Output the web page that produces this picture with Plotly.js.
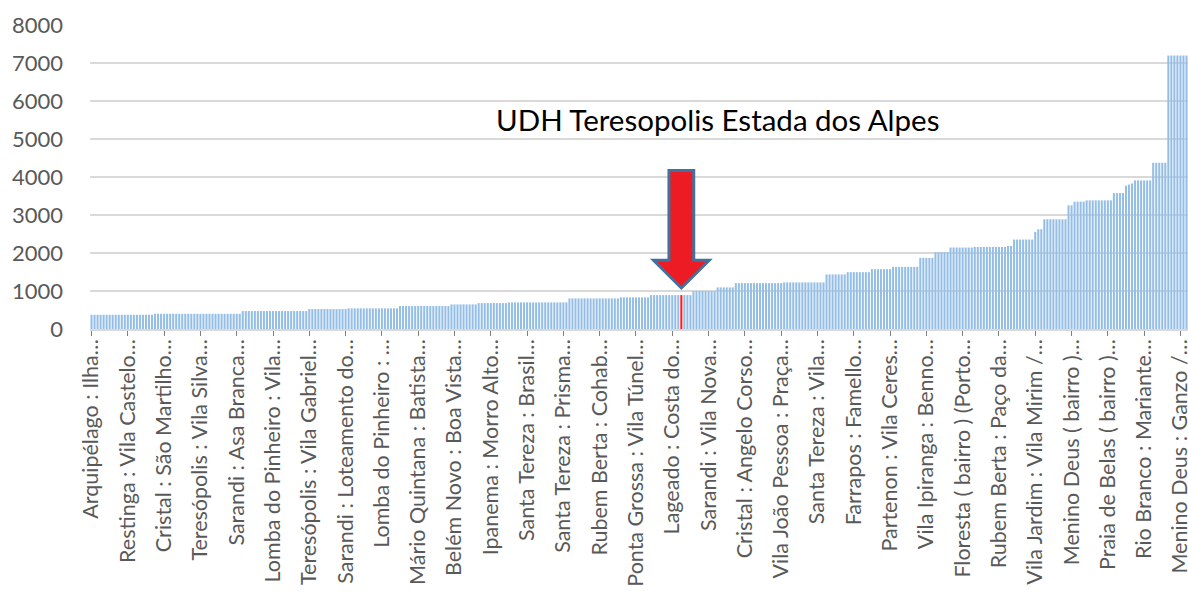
<!DOCTYPE html>
<html>
<head>
<meta charset="utf-8">
<script src="https://cdn.plot.ly/plotly-3.0.1.min.js"></script>
<style>html,body{margin:0;padding:0;background:#fff;}#chart{width:1188px;height:613px;}</style>
</head>
<body>
<div id="chart"></div>
<script>
// Values of the sorted UDHs
const values = [
  375,375,375,375,375,375,375,375,375,375, 375,375,375,375,375,375,375,375,375,375, 375,
  400,400,400,400,400,400,400,400,400,400, 400,400,400,400,400,400,400,400,400,400, 400,400,400,400,400,400,400,400,400,
  472,472,472,472,472,472,472,472,472,472, 472,472,472,472,472,472,472,472,472,472, 472,472,
  525,525,525,525,525,525,525,525,525,525, 525,525,525,
  543,543,543,543,543,543,543,543,543,543, 543,543,543,543,543,543,543,
  604,604,604,604,604,604,604,604,604,604, 604,604,604,604,604,604,604,
  648,648,648,648,648,648,648,648,648,
  682,682,682,682,682,682,682,682,682,682,
  700,700,700,700,700,700,700,700,700,700, 700,700,700,700,700,700,700,700,700,700,
  805,805,805,805,805,805,805,805,805,805, 805,805,805,805,805,805,805,
  832,832,832,832,832,832,832,832,832,832,
  892,892,892,892,892,892,892,892,892,892, 892,892,892,892,
  997,997,997,997,997,997,997,997,
  1094,1094,1094,1094,1094,1094,
  1207,1207,1207,1207,1207,1207,1207,1207,1207,1207, 1207,1207,1207,1207,1207,1207,
  1226,1226,1226,1226,1226,1226,1226,1226,1226,1226, 1226,1226,1226,1226,
  1436,1436,1436,1436,1436,1436,1436,
  1496,1496,1496,1496,1496,1496,1496,1496,
  1575,1575,1575,1575,1575,1575,1575,
  1635,1635,1635,1635,1635,1635,1635,1635,1635,
  1871,1871,1871,1871,1871,
  2021,2021,2021,2021,2021,
  2144,2144,2144,2144,2144,2144,2144,2144,
  2160,2160,2160,2160,2160,2160,2160,2160,2160,2160, 2160,
  2186,2186,
  2354,2354,2354,2354,2354,2354,2354,
  2554,
  2625,2625,
  2887,2887,2887,2887,2887,2887,2887,2887,
  3255,3255,
  3352,3352,3352,3352,
  3386,3386,3386,3386,3386,3386,3386,3386,3386,
  3577,3577,3577,3577,
  3772,3800,3830,
  3911,3911,3911,3911,3911,3911,
  4375,4375,4375,4375,4375,
  7200,7200,7200,7200,7200,7200,7200
];

// Category labels shown on the axis (every 12th UDH)
const tickLabels = [
  "Arquipélago : Ilha…",
  "Restinga : Vila Castelo…",
  "Cristal : São Martilho…",
  "Teresópolis : Vila Silva…",
  "Sarandi : Asa Branca…",
  "Lomba do Pinheiro : Vila…",
  "Teresópolis : Vila Gabriel…",
  "Sarandi : Loteamento do…",
  "Lomba do Pinheiro : …",
  "Mário Quintana : Batista…",
  "Belém Novo : Boa Vista…",
  "Ipanema : Morro Alto…",
  "Santa Tereza : Brasil…",
  "Santa Tereza : Prisma…",
  "Rubem Berta : Cohab…",
  "Ponta Grossa : Vila Túnel…",
  "Lageado : Costa do…",
  "Sarandi : Vila Nova…",
  "Cristal : Angelo Corso…",
  "Vila João Pessoa : Praça…",
  "Santa Tereza : Vila…",
  "Farrapos : Famello…",
  "Partenon : Vila Ceres…",
  "Vila Ipiranga : Benno…",
  "Floresta ( bairro ) (Porto…",
  "Rubem Berta : Paço da…",
  "Vila Jardim : Vila Mirim /…",
  "Menino Deus ( bairro )…",
  "Praia de Belas ( bairro )…",
  "Rio Branco : Mariante…",
  "Menino Deus : Ganzo /…"
];
const labelStep = 12;
const highlightIndex = 195;
const highlightName = "UDH Teresopolis Estada dos Alpes";

const xs = values.map((_, i) => i);
const colors = values.map((_, i) => i === highlightIndex ? '#ff1a1a' : '#94bee6');

const FONT = 'Lato, "Open Sans", "DejaVu Sans", sans-serif';

const trace = {
  type: 'bar',
  x: xs,
  y: values,
  marker: {color: colors, line: {width: 0}},
  hoverinfo: 'y'
};

const hx = highlightIndex;
const layout = {
  width: 1188,
  height: 613,
  margin: {l: 90, r: 0, t: 25, b: 284, pad: 0},
  paper_bgcolor: '#ffffff',
  plot_bgcolor: '#ffffff',
  bargap: 0.32,
  showlegend: false,
  font: {family: FONT, color: '#595959'},
  xaxis: {
    range: [-0.5, values.length - 0.5],
    tickmode: 'array',
    tickvals: tickLabels.map((_, i) => i * labelStep),
    ticktext: tickLabels,
    tickangle: -90,
    tickfont: {family: FONT, size: 21.5, color: '#595959'},
    ticks: 'outside',
    ticklen: 5,
    tickwidth: 1,
    tickcolor: '#808080',
    ticklabelstandoff: -5,
    ticklabeloverflow: 'allow',
    showline: true,
    linecolor: '#d9d9d9',
    linewidth: 1.5,
    showgrid: false,
    zeroline: false,
    automargin: false,
    fixedrange: true
  },
  yaxis: {
    range: [0, 8000],
    tickmode: 'linear',
    tick0: 0,
    dtick: 1000,
    tickfont: {family: FONT, size: 22, color: '#595959'},
    ticks: '',
    ticklabelstandoff: 26,
    showgrid: true,
    gridcolor: '#d9d9d9',
    gridwidth: 1.5,
    zeroline: false,
    showline: false,
    automargin: false,
    fixedrange: true
  },
  shapes: [{
    type: 'path',
    xref: 'x', yref: 'y',
    path: `M ${hx-4.1},4170 L ${hx+4.1},4170 L ${hx+4.1},1810 L ${hx+9.2},1810 L ${hx},1080 L ${hx-9.2},1810 L ${hx-4.1},1810 Z`,
    fillcolor: '#ed1c24',
    line: {color: '#41719c', width: 3},
    layer: 'above'
  }],
  annotations: [{
    xref: 'x', yref: 'y',
    x: hx + 12, y: 5510,
    text: highlightName,
    showarrow: false,
    font: {family: FONT, size: 29.5, color: '#000000'},
    xanchor: 'center', yanchor: 'middle'
  }]
};

Plotly.newPlot('chart', [trace], layout, {displayModeBar: false, staticPlot: true});
</script>
</body>
</html>
